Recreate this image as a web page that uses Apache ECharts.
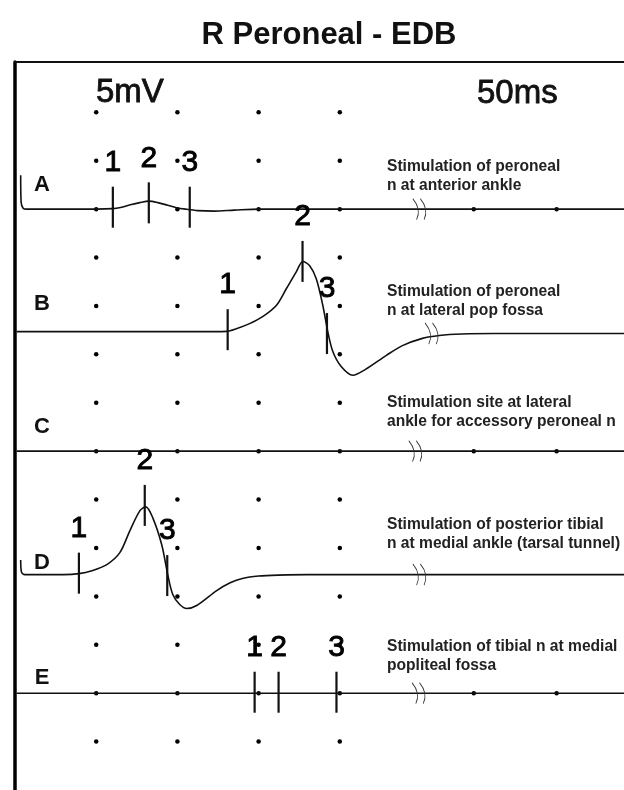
<!DOCTYPE html>
<html>
<head>
<meta charset="utf-8">
<title>R Peroneal - EDB</title>
<script src="https://cdn.jsdelivr.net/npm/echarts@6/dist/echarts.min.js"></script>
<style>
  html, body { margin: 0; padding: 0; background: #fff; }
  #chart { width: 624px; height: 790px; }
</style>
</head>
<body>
<div id="chart"></div>
<script>
// R Peroneal - EDB, five stimulation traces
// x = time in screen divisions, y = amplitude in divisions (5mV / div)

const titleText = 'R Peroneal - EDB';
const traceNames = ['A', 'B', 'C', 'D', 'E'];
const baselines = [12, 9.47, 7, 4.45, 2];

const traceA = [[0.07, 0.7], [0.075, 0.15], [0.1, 0.02], [0.14, 0], [1.0, 0], [1.205, 0.01], [1.3, 0.035],
  [1.42, 0.09], [1.537, 0.135], [1.648, 0.165], [1.76, 0.135], [1.88, 0.08], [1.99, 0.03], [2.1, 0],
  [2.25, -0.03], [2.45, -0.04], [2.7, -0.02], [3.01, 0], [7.5, 0]];
const traceB = [[0.02, 0], [2.45, 0], [2.607, 0.005], [2.726, 0.06], [2.889, 0.165], [3.05, 0.31], [3.218, 0.54],
  [3.341, 0.885], [3.464, 1.235], [3.545, 1.447], [3.627, 1.364], [3.71, 1.09], [3.791, 0.54], [3.852, 0],
  [3.914, -0.41], [4.017, -0.72], [4.16, -0.9], [4.316, -0.78], [4.574, -0.49], [4.771, -0.29], [5.017, -0.14],
  [5.226, -0.08], [5.5, -0.05], [5.9, -0.04], [7.5, -0.04]];
const traceC = [[0.02, 0], [7.5, 0]];
const traceD = [[0.07, 0.3], [0.08, 0.05], [0.12, 0], [0.6, 0], [0.787, 0.02], [0.947, 0.08], [1.131, 0.206],
  [1.291, 0.453], [1.414, 0.905], [1.537, 1.317], [1.611, 1.4], [1.697, 1.173], [1.807, 0.617], [1.881, 0],
  [1.943, -0.41], [2.029, -0.617], [2.115, -0.7], [2.238, -0.638], [2.484, -0.33], [2.65, -0.17],
  [2.8, -0.08], [3.0, -0.03], [3.25, -0.01], [3.6, 0], [7.5, 0]];
const traceE = [[0.02, 0], [7.5, 0]];
const traces = [traceA, traceB, traceC, traceD, traceE];

// latency markers 1,2,3 per trace: [time, amplitude]
const markersA = [[1.205, 0.04], [1.648, 0.13], [2.152, 0.04]];
const markersB = [[2.619, 0.04], [3.541, 1.45], [3.842, -0.04]];
const markersC = [];
const markersD = [[0.787, 0.03], [1.598, 1.43], [1.875, -0.02]];
const markersE = [[2.951, 0.02], [3.246, 0.02], [3.959, 0.02]];
const markers = [markersA, markersB, markersC, markersD, markersE];
const markerNames = ['1', '2', '3'];

// sweep break position per trace
const breaks = [4.98, 5.13, 4.93, 4.98, 4.97];

// dot graticule
const gridCols = [1, 2, 3, 4];
const gridRows = [14, 13, 12, 11, 10, 9, 8, 7, 6, 5, 4, 3, 2, 1];
const farCols = [5.65, 6.67];
const farRows = [12, 7, 2];

const stimText = [
  'Stimulation of peroneal\nn at anterior ankle',
  'Stimulation of peroneal\nn at lateral pop fossa',
  'Stimulation site at lateral\nankle for accessory peroneal n',
  'Stimulation of posterior tibial\nn at medial ankle (tarsal tunnel)',
  'Stimulation of tibial n at medial\npopliteal fossa'
];
const gainLabel = '5mV';
const sweepLabel = '50ms';

const FONT = '"Liberation Sans", Arial, sans-serif';
const INK = '#111';

const chart = echarts.init(document.getElementById('chart'));

const dots = [];
gridRows.forEach(r => gridCols.forEach(c => dots.push([c, r])));
farRows.forEach(r => farCols.forEach(c => dots.push([c, r])));

const series = [{
  type: 'scatter',
  data: dots,
  symbol: 'circle',
  symbolSize: 4.5,
  itemStyle: { color: '#000', opacity: 1 },
  silent: true,
  z: 2
}];

traces.forEach((t, i) => {
  series.push({
    name: traceNames[i],
    type: 'line',
    data: t.map(p => [p[0], baselines[i] + p[1]]),
    showSymbol: false,
    smooth: 0.3,
    lineStyle: { color: INK, width: 1.6 },
    silent: true,
    z: 3
  });
});

const markData = [];
markers.forEach((m, i) => {
  m.forEach((p, j) => markData.push({ name: markerNames[j], value: [p[0], baselines[i] + p[1]] }));
});
series.push({
  type: 'scatter',
  data: markData,
  symbol: 'rect',
  symbolSize: [2.2, 41],
  itemStyle: { color: INK, opacity: 1 },
  label: {
    show: true,
    position: 'top',
    distance: 9,
    formatter: p => p.name,
    fontFamily: FONT,
    fontSize: 30,
    color: '#000',
    textBorderColor: '#000',
    textBorderWidth: 0.9,
    lineHeight: 30
  },
  silent: true,
  z: 4
});

series.push({
  type: 'scatter',
  data: breaks.map((b, i) => [b, baselines[i] + (i === 1 ? -0.04 : 0)]),
  symbol: 'path://M0,0 Q7,10 3,20 M6,0 Q13,10 9,20',
  symbolSize: [13, 21],
  itemStyle: { color: 'none', borderColor: '#333', borderWidth: 1, opacity: 1 },
  silent: true,
  z: 5
});

// text positions (px)
const letterY = [185, 304, 427, 563, 678];
const stimY = [167, 292, 403, 525, 647];
const graphic = [{
  type: 'text', x: 329, y: 35,
  style: { text: titleText, fontFamily: FONT, fontSize: 31, fontWeight: 'bold', fill: INK, align: 'center', verticalAlign: 'middle' }
}];
traceNames.forEach((n, i) => {
  graphic.push({
    type: 'text', x: 42, y: letterY[i],
    style: { text: n, fontFamily: FONT, fontSize: 22, fontWeight: 'bold', fill: INK, align: 'center', verticalAlign: 'middle' }
  });
  graphic.push({
    type: 'text', x: 387, y: stimY[i] - 9.5,
    style: { text: stimText[i], fontFamily: FONT, fontSize: 15.6, fontWeight: 'bold', fill: '#222', lineHeight: 19, align: 'left', verticalAlign: 'top' }
  });
});
graphic.push({
  type: 'text', x: 96, y: 93,
  style: { text: gainLabel, fontFamily: FONT, fontSize: 33, fill: INK, stroke: INK, lineWidth: 0.8, align: 'left', verticalAlign: 'middle' }
});
graphic.push({
  type: 'text', x: 477, y: 94,
  style: { text: sweepLabel, fontFamily: FONT, fontSize: 33, fill: INK, stroke: INK, lineWidth: 0.8, align: 'left', verticalAlign: 'middle' }
});

const option = {
  animation: false,
  backgroundColor: '#fff',
  grid: { left: 15, top: 62, width: 610, height: 731 },
  xAxis: {
    type: 'value',
    min: 0,
    max: 7.5,
    position: 'top',
    axisLine: { show: true, onZero: false, lineStyle: { color: '#111', width: 2 } },
    axisTick: { show: false },
    axisLabel: { show: false },
    splitLine: { show: false }
  },
  yAxis: {
    type: 'value',
    min: 0,
    max: 15.04,
    axisLine: { show: true, onZero: false, lineStyle: { color: '#000', width: 3.5 } },
    axisTick: { show: false },
    axisLabel: { show: false },
    splitLine: { show: false }
  },
  graphic: graphic,
  series: series
};

chart.setOption(option);
</script>
</body>
</html>
